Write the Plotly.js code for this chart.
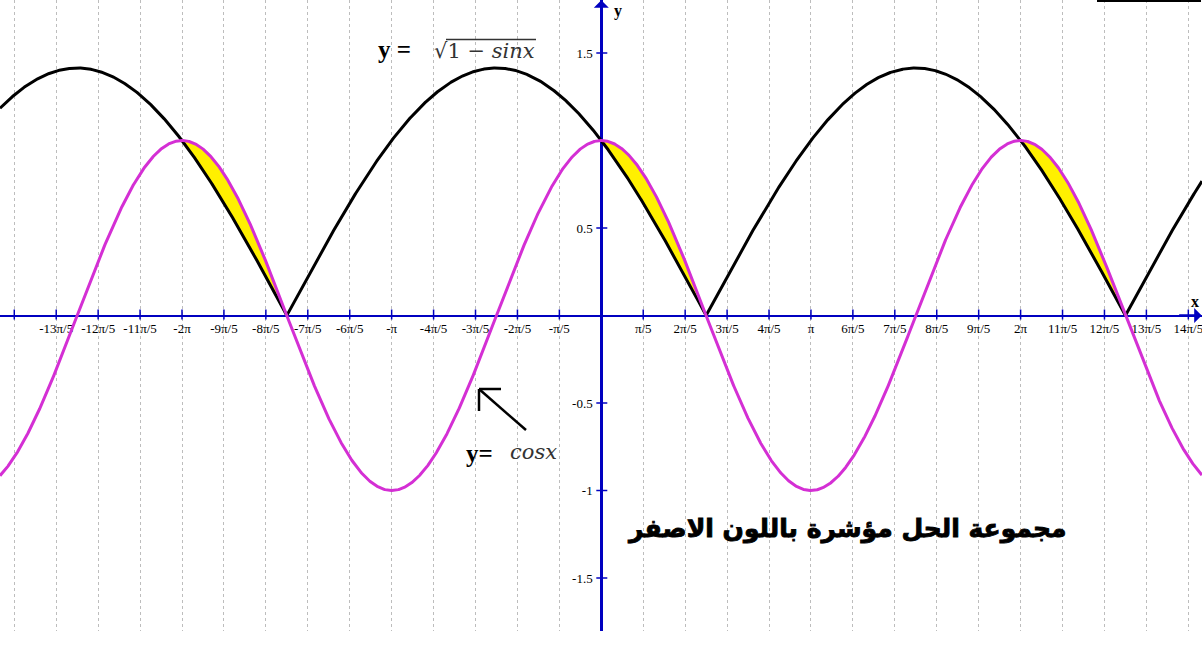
<!DOCTYPE html>
<html>
<head>
<meta charset="utf-8">
<script src="https://cdn.plot.ly/plotly-3.0.1.min.js"></script>
<style>html,body{margin:0;padding:0;background:#fff;}#chart{width:1202px;height:663px;}</style>
</head>
<body>
<div id="chart"></div>
<script>
// ---- chart content ----
const PI = Math.PI;
// x ticks in multiples of pi/5
const xTickMultiples = [-14,-13,-12,-11,-10,-9,-8,-7,-6,-5,-4,-3,-2,-1,1,2,3,4,5,6,7,8,9,10,11,12,13,14];
const xTickLabels = ['','-13π/5','-12π/5','-11π/5','-2π','-9π/5','-8π/5','-7π/5','-6π/5','-π','-4π/5','-3π/5','-2π/5','-π/5',
                     'π/5','2π/5','3π/5','4π/5','π','6π/5','7π/5','8π/5','9π/5','2π','11π/5','12π/5','13π/5','14π/5'];
const yTickVals = [-1.5,-1,-0.5,0.5,1.5];
const yTickLabels = ['-1.5','-1','-0.5','0.5','1.5'];
// the two plotted functions
const curveSqrt = x => Math.sqrt(Math.max(0, 1 - Math.sin(x)));   // y = sqrt(1 - sin x)
const curveCos  = x => Math.cos(x);                                  // y = cos x
// solution intervals (cos x >= sqrt(1 - sin x)), shaded yellow
const solutionIntervals = [[-2*PI, -1.5*PI], [0, 0.5*PI], [2*PI, 2.5*PI]];
// cusps of sqrt(1 - sin x)
const cuspPoints = [-1.5*PI, 0.5*PI, 2.5*PI];

// ---- geometry ----
const W = 1202, H = 663, PH = 631;
const pxPerStep = 41.93, x0px = 601.3;
const xMin = -x0px / pxPerStep * PI / 5;
const xMax = (W - x0px) / pxPerStep * PI / 5;
const yHalf = 315.5 / 175;
const blue = '#0000c0';
const magenta = '#d42fd4';

function sample(f, a, b, n, extra) {
  const xs = [];
  for (let i = 0; i <= n; i++) xs.push(a + (b - a) * i / n);
  (extra || []).forEach(e => { if (e > a && e < b) xs.push(e); });
  xs.sort((p, q) => p - q);
  return {x: xs, y: xs.map(f)};
}

const traces = [];
solutionIntervals.forEach(iv => {
  const top = sample(curveCos, iv[0], iv[1], 200);
  const bot = sample(curveSqrt, iv[0], iv[1], 200);
  traces.push({
    x: top.x.concat(bot.x.slice().reverse()),
    y: top.y.concat(bot.y.slice().reverse()),
    type: 'scatter', mode: 'lines', fill: 'toself',
    fillcolor: 'rgb(255,240,0)', line: {width: 0, color: 'rgba(0,0,0,0)'},
    hoverinfo: 'skip', showlegend: false
  });
});
const s = sample(curveSqrt, xMin, xMax, 3000, cuspPoints);
traces.push({x: s.x, y: s.y, type: 'scatter', mode: 'lines', line: {color: '#000', width: 3}, showlegend: false});
const c = sample(curveCos, xMin, xMax, 3000);
traces.push({x: c.x, y: c.y, type: 'scatter', mode: 'lines', line: {color: magenta, width: 3}, showlegend: false});

const xTickVals = xTickMultiples.map(m => m * PI / 5);

const px = v => v / W;
const py = v => 1 - v / PH;
const dxPx = v => v / pxPerStep * PI / 5;
const dyPx = v => v / 175;

const shapes = [];
// tick marks crossing the axes
xTickVals.forEach(v => shapes.push({type: 'line', xref: 'x', yref: 'y', x0: v, x1: v, y0: -dyPx(4), y1: dyPx(6), line: {color: blue, width: 1.5}}));
yTickVals.forEach(v => shapes.push({type: 'line', xref: 'x', yref: 'y', x0: -dxPx(5), x1: dxPx(6), y0: v, y1: v, line: {color: blue, width: 1.5}}));
// sqrt vinculum
shapes.push({type: 'line', xref: 'paper', yref: 'paper', x0: px(446), x1: px(536), y0: py(39.5), y1: py(39.5), line: {color: '#333', width: 1.5}});
// top-right fragment
shapes.push({type: 'line', xref: 'paper', yref: 'paper', x0: px(1097), x1: px(1201), y0: py(1), y1: py(1), line: {color: '#000', width: 2}});
// arrow pointing at the cos curve (shaft + open head)
shapes.push({type: 'line', xref: 'paper', yref: 'paper', x0: px(526), x1: px(479), y0: py(430), y1: py(389), line: {color: '#000', width: 2.5}});
shapes.push({type: 'line', xref: 'paper', yref: 'paper', x0: px(479), x1: px(479), y0: py(389), y1: py(411), line: {color: '#000', width: 2.5}});
shapes.push({type: 'line', xref: 'paper', yref: 'paper', x0: px(479), x1: px(501), y0: py(389), y1: py(389), line: {color: '#000', width: 2.5}});

const annotations = [
  // axis arrows
  {xref: 'x', yref: 'y', x: 0, y: yHalf - 0.002, ax: 0, ay: 24, showarrow: true, arrowhead: 1, arrowsize: 1, arrowwidth: 2.5, arrowcolor: blue, text: ''},
  {xref: 'x', yref: 'y', x: xMax - 0.005, y: 0, ax: -24, ay: 0, showarrow: true, arrowhead: 1, arrowsize: 1, arrowwidth: 2.5, arrowcolor: blue, text: ''},
  // axis names
  {xref: 'paper', yref: 'paper', x: px(612), y: py(11), xanchor: 'left', yanchor: 'middle', showarrow: false, text: '<b>y</b>', font: {family: 'Liberation Serif', size: 16, color: '#000'}},
  {xref: 'paper', yref: 'paper', x: px(1195), y: py(301), xanchor: 'center', yanchor: 'middle', showarrow: false, text: '<b>x</b>', font: {family: 'Liberation Serif', size: 16, color: '#000'}},
  // y = sqrt(1 - sinx)
  {xref: 'paper', yref: 'paper', x: px(376), y: py(50), xanchor: 'left', yanchor: 'middle', showarrow: false, text: '<b>y =</b>', font: {family: 'Liberation Serif', size: 25, color: '#000'}},
  {xref: 'paper', yref: 'paper', x: px(432), y: py(51), xanchor: 'left', yanchor: 'middle', showarrow: false, text: '√1 − <i>sinx</i>', font: {family: 'DejaVu Serif', size: 21, color: '#333'}},
  // y = cosx
  {xref: 'paper', yref: 'paper', x: px(464), y: py(453), xanchor: 'left', yanchor: 'middle', showarrow: false, text: '<b>y=</b>', font: {family: 'Liberation Serif', size: 25, color: '#000'}},
  {xref: 'paper', yref: 'paper', x: px(508), y: py(452), xanchor: 'left', yanchor: 'middle', showarrow: false, text: '<i>cosx</i>', font: {family: 'DejaVu Serif', size: 21, color: '#333'}},
  // arabic note
  {xref: 'paper', yref: 'paper', x: px(847), y: py(529), xanchor: 'center', yanchor: 'middle', showarrow: false, text: '<b>مجموعة الحل مؤشرة باللون الاصفر</b>', font: {family: 'DejaVu Sans', size: 25, color: '#000'}, name: 'arabic'}
];

const layout = {
  width: W, height: H,
  margin: {l: 0, r: 0, t: 0, b: H - PH, pad: 0},
  paper_bgcolor: '#fff', plot_bgcolor: '#fff',
  showlegend: false,
  xaxis: {
    range: [xMin, xMax], anchor: 'free', position: 0.5,
    showline: true, linecolor: blue, linewidth: 2.5, zeroline: false,
    showgrid: true, gridcolor: '#bdbdbd', griddash: 'dot', gridwidth: 1,
    tickmode: 'array', tickvals: xTickVals, ticktext: xTickLabels,
    ticks: '', ticklabeloverflow: 'allow',
    tickfont: {family: 'Liberation Serif', size: 13, color: '#000'},
    layer: 'below traces', fixedrange: true
  },
  yaxis: {
    range: [-yHalf, yHalf], anchor: 'free', position: x0px / W,
    showline: true, linecolor: blue, linewidth: 2.5, zeroline: false,
    showgrid: false,
    tickmode: 'array', tickvals: yTickVals, ticktext: yTickLabels,
    ticks: 'outside', ticklen: 5, tickcolor: 'rgba(0,0,0,0)',
    tickfont: {family: 'Liberation Serif', size: 13, color: '#000'},
    layer: 'below traces', fixedrange: true
  },
  shapes: shapes,
  annotations: annotations
};

Plotly.newPlot('chart', traces, layout, {displayModeBar: false, staticPlot: true}).then(() => {
  // heavier stroke for the Arabic caption
  document.querySelectorAll('.annotation-text').forEach(t => {
    if (/[\u0600-\u06FF]/.test(t.textContent)) {
      t.style.stroke = '#000';
      t.style.strokeWidth = '0.9px';
    }
  });
});
</script>
</body>
</html>
